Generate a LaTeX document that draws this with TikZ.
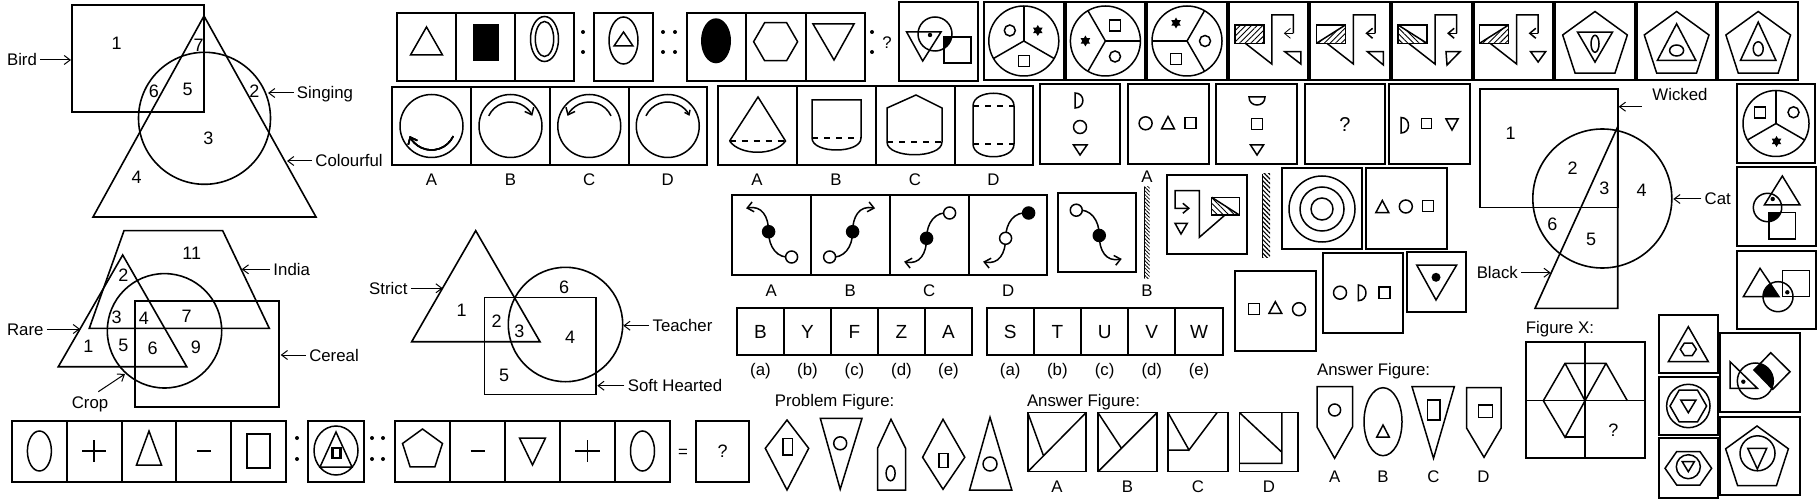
\documentclass[tikz,border=0pt]{standalone}
\usepackage{fontspec}
\setmainfont{Liberation Sans}
\usetikzlibrary{calc,arrows.meta,patterns.meta}
\tikzset{
  bx/.style={draw=black,line width=1pt},
  sh/.style={draw=black,line width=0.75pt},
  vn/.style={draw=black,line width=0.8pt},
  lb/.style={inner sep=0pt,font=\fontsize{8.4}{10}\selectfont,text height=6pt,text depth=0pt},
  nm/.style={inner sep=0pt,font=\fontsize{9}{10}\selectfont,text height=6.4pt,text depth=0pt},
  lt/.style={inner sep=0pt,font=\fontsize{9.5}{11}\selectfont,text height=6.8pt,text depth=0pt},
  arr/.style={line width=0.5pt,-{Straight Barb[length=3pt,width=4.5pt]}},
  tip/.style={-{Straight Barb[length=3pt,width=5pt]}},
  hatch/.style={pattern={Lines[angle=#1,distance=2pt,line width=0.45pt]}},
}
\newcommand\pent[3]{\draw[sh] (#1,#2) +(-90:#3) -- +(-18:#3) -- +(54:#3) -- +(126:#3) -- +(198:#3) -- cycle;}
\newcommand\hexa[4]{\draw[sh] (#1,#2) +(#3,0) -- +({#3/2},#4) -- +({-#3/2},#4) -- +(-#3,0) -- +({-#3/2},-#4) -- +({#3/2},-#4) -- cycle;}
\newcommand\starat[2]{\fill (#1,#2) +(0,-5.5) -- +(4.76,2.75) -- +(-4.76,2.75) -- cycle; \fill (#1,#2) +(0,5.5) -- +(4.76,-2.75) -- +(-4.76,-2.75) -- cycle;}
\newcommand\sq[3]{\draw[sh] (#1-#3,#2-#3) rectangle (#1+#3,#2+#3);}
\newcommand\oc[3]{\draw[sh] (#1,#2) circle[radius=#3];}
\newcommand\sect[4]{\draw[sh] (#1,#2) circle[radius=#3];
  \foreach \aa in {0,120,240}{\draw[sh] (#1,#2) -- +({-(#4+\aa)}:#3);}}
\newcommand\scurve[2]{%
  \draw[sh] (20.5,22) .. controls (6,24) and (-2.5,12) .. (-2.5,-3.3);
  \draw[sh,tip] (-2.5,-3.3) .. controls (-2.5,-18) and (-9,-30) .. (-25,-26.7);
  \filldraw[sh,fill=#2] (20.5,22) circle[radius=6];
  \filldraw[sh,fill=#1] (-2.5,-3.3) circle[radius=6];}
\begin{document}
\begin{tikzpicture}[x=0.5pt,y=-0.5pt]
\useasboundingbox (0,0) rectangle (1818,502);
\fill[white] (0,0) rectangle (1818,502);

% ================= Venn 1 (Bird) =================
\draw[vn] (72,5) rectangle (204,112);
\draw[vn] (204,16) -- (93,217) -- (316,217) -- cycle;
\draw[vn] (204.5,118.3) circle[radius=66];
\node[nm] (a1) at (116.7,42.7) {1};
\node[nm] (a7) at (198.7,45) {7};
\node[nm] (a6) at (154,90.7) {6};
\node[nm] (a5) at (187.7,89.3) {5};
\node[nm] (a2) at (254.3,90.7) {2};
\node[nm] (a3) at (208.3,138.3) {3};
\node[nm] (a4) at (136.7,177.3) {4};
\node[lb] (bird) at (22,60) {Bird};
\coordinate (birdT) at (71,60);
\draw[arr,shorten <=1.5pt] (bird) -- (birdT);
\node[lb] (sing) at (325,93) {Singing};
\coordinate (singT) at (268,93);
\draw[arr,shorten <=1.5pt] (sing) -- (singT);
\node[lb] (colf) at (349,161) {Colourful};
\coordinate (colfT) at (287,161);
\draw[arr,shorten <=1.5pt] (colf) -- (colfT);

% ================= Venn 2 (India) =================
\draw[vn] (124,230.7) -- (222.7,230.7) -- (269.3,328.3) -- (89.3,328.3) -- cycle;
\draw[vn] (122.7,255) -- (58.3,366.7) -- (186.7,366.7) -- cycle;
\draw[vn] (164.5,330.8) circle[radius=57.2];
\draw[vn] (135,300.7) rectangle (278.7,406.7);
\node[nm] (b11) at (191.7,253.3) {11};
\node[nm] (b2) at (123.3,275) {2};
\node[nm] (b3) at (116.7,316.7) {3};
\node[nm] (b4) at (144,318.3) {4};
\node[nm] (b7) at (186.7,315.7) {7};
\node[nm] (b1) at (88.3,346) {1};
\node[nm] (b5) at (123.3,345) {5};
\node[nm] (b6) at (152.7,348.3) {6};
\node[nm] (b9) at (196,346.7) {9};
\node[lb] (india) at (291.7,269.3) {India};
\coordinate (indiaT) at (241.7,269.3);
\draw[arr,shorten <=1.5pt] (india) -- (indiaT);
\node[lb] (rare) at (25.3,329) {Rare};
\coordinate (rareT) at (80,329);
\draw[arr,shorten <=1.5pt] (rare) -- (rareT);
\node[lb] (cereal) at (334,355) {Cereal};
\coordinate (cerealT) at (280.7,355);
\draw[arr,shorten <=1.5pt] (cereal) -- (cerealT);
\node[lb] (crop) at (90,402.3) {Crop};
\coordinate (cropS) at (98.3,391.7);
\coordinate (cropT) at (125,374);
\draw[arr] (cropS) -- (cropT);

% ================= Venn 3 (Strict) =================
\draw[vn] (475.7,230.7) -- (411.7,341.7) -- (540,341.7) -- cycle;
\draw[vn] (484.3,297.3) rectangle (596,394.3);
\draw[vn] (565.5,324.5) circle[radius=57.2];
\node[nm] (c6) at (564,287.3) {6};
\node[nm] (c1) at (461.7,310) {1};
\node[nm] (c2) at (496.7,320.7) {2};
\node[nm] (c3) at (519.3,330.7) {3};
\node[nm] (c4) at (570,337.3) {4};
\node[nm] (c5) at (504,375) {5};
\node[lb] (strict) at (388.3,288.3) {Strict};
\coordinate (strictT) at (442.7,288.3);
\draw[arr,shorten <=1.5pt] (strict) -- (strictT);
\node[lb] (teach) at (682.5,325.7) {Teacher};
\coordinate (teachT) at (623.3,325.7);
\draw[arr,shorten <=1.5pt] (teach) -- (teachT);
\node[lb] (soft) at (675,385.7) {Soft Hearted};
\coordinate (softT) at (597.3,385.7);
\draw[arr,shorten <=1.5pt] (soft) -- (softT);

% ================= Bottom-left analogy row =================
\draw[bx] (12,421) rectangle (286,482);
\foreach \x in {66.8,121.6,176.4,231.2} \draw[bx] (\x,421) -- (\x,482);
\draw[sh] (39.4,451) ellipse[x radius=12,y radius=20];
\draw[sh] (82,451) -- (106.4,451) (94.2,440) -- (94.2,462);
\draw[sh] (149,431) -- (136.5,465) -- (161.5,465) -- cycle;
\draw[sh] (196.8,451) -- (210.8,451);
\draw[sh] (247,434) rectangle (270,468);
\fill (297,438) circle[radius=2]; \fill (297,459) circle[radius=2];
\draw[bx] (308,421) rectangle (364,482);
\draw[sh] (336,450.5) ellipse[x radius=22,y radius=24.5];
\draw[sh] (336,432) -- (320,467) -- (352,467) -- cycle;
\draw[line width=1.2pt] (332.5,448) rectangle (340.5,458);
\fill (372,438) circle[radius=2]; \fill (372,459) circle[radius=2];
\fill (383,438) circle[radius=2]; \fill (383,459) circle[radius=2];
\draw[bx] (395,421) rectangle (670,482);
\foreach \x in {450,505,560,615} \draw[bx] (\x,421) -- (\x,482);
\pent{422.5}{450}{21}
\draw[sh] (470.5,451) -- (484.5,451);
\draw[sh] (519.5,438) -- (545.5,438) -- (532.5,465) -- cycle;
\draw[sh] (575.3,451) -- (599.7,451) (587.5,440) -- (587.5,462);
\draw[sh] (642.5,451) ellipse[x radius=12,y radius=20];
\node[lb] (eq) at (683,451) {=};
\draw[bx] (696,421) rectangle (749,482);
\node[nm] (q1) at (722.5,451.5) {?};

% ================= Top row, left =================
\draw[bx] (397,13) rectangle (574,81);
\foreach \x in {456,515} \draw[bx] (\x,13) -- (\x,81);
\draw[sh] (426.5,27) -- (410.5,55) -- (442.5,55) -- cycle;
\fill (472.5,24) rectangle (498.5,61);
\draw[sh] (544.5,39) ellipse[x radius=14,y radius=22.5];
\draw[sh] (544.5,39) ellipse[x radius=9.2,y radius=17.5];
\fill (583,32) circle[radius=2]; \fill (583,52) circle[radius=2];
\draw[bx] (594,13) rectangle (652.5,81);
\draw[sh] (623.5,40.5) ellipse[x radius=14.5,y radius=23.5];
\draw[sh] (623.5,32) -- (614,46) -- (633,46) -- cycle;
\fill (663,32) circle[radius=2]; \fill (663,52) circle[radius=2];
\fill (675,32) circle[radius=2]; \fill (675,52) circle[radius=2];
\draw[bx] (687,13) rectangle (864.5,81);
\foreach \x in {746,805.5} \draw[bx] (\x,13) -- (\x,81);
\fill (716,40.8) ellipse[x radius=15,y radius=22.5];
\hexa{775.6}{41.7}{22}{19}
\draw[sh] (813,24) -- (854,24) -- (834,60) -- cycle;
\fill (872,32) circle[radius=2]; \fill (872,52) circle[radius=2];
\node[lb] (q2) at (887,43) {?};
\draw[bx] (899,2) rectangle (977.5,81);
\begin{scope}
  \clip (935,34) circle[radius=17];
  \fill (944,37) rectangle (971,63);
\end{scope}
\draw[sh] (906.6,32) -- (941,32) -- (922.7,61) -- cycle;
\oc{935}{34}{17}
\draw[sh] (944,37) rectangle (971,63);
\fill (930,35) circle[radius=2.2];

% ---- circles with arcs
\draw[bx] (392,87) rectangle (707,165);
\foreach \x in {471,550,628.5} \draw[bx] (\x,87) -- (\x,165);
\foreach \x in {431.5,510.5,589.25,667.75} \oc{\x}{126}{31.5}
\draw[sh,tip] ($(431.5,126)+(25:24)$) arc[start angle=25,end angle=155,radius=24];
\draw[sh,tip] ($(510.5,126)+(-155:24)$) arc[start angle=-155,end angle=-25,radius=24];
\draw[sh,tip] ($(589.25,126)+(-25:24)$) arc[start angle=-25,end angle=-155,radius=24];
\draw[sh,-{Straight Barb[length=2pt,width=3pt]}] ($(667.75,126)+(-155:24)$) arc[start angle=-155,end angle=-25,radius=24];
\node[lb] (cA) at (431.5,180) {A};
\node[lb] (cB) at (510.5,180) {B};
\node[lb] (cC) at (589.25,180) {C};
\node[lb] (cD) at (667.75,180) {D};

% ---- cones
\draw[bx] (718,86) rectangle (1033,165);
\foreach \x in {796.5,876,954.5} \draw[bx] (\x,86) -- (\x,165);
\draw[sh] (729.6,141) -- (758,97) -- (785.5,141) .. controls (775,156) and (740,156) .. (729.6,141);
\draw[sh,dashed] (729.6,141) -- (785.5,141);
\draw[sh] (812,138) -- (812,100) -- (861,100) -- (861,138) .. controls (861,154) and (812,154) .. (812,138);
\draw[sh,dashed] (812,138) -- (861,138);
\draw[sh] (887,142) -- (887,108) -- (916,95) -- (942,108) -- (942,142) .. controls (942,159) and (887,159) .. (887,142);
\draw[sh,dashed] (887,142) -- (942,142);
\draw[sh] (973,106) .. controls (973,89) and (1014,89) .. (1014,106) -- (1014,144) .. controls (1014,161) and (973,161) .. (973,144) -- cycle;
\draw[sh,dashed] (973,106) -- (1014,106) (973,144) -- (1014,144);
\node[lb] (kA) at (757,180) {A};
\node[lb] (kB) at (836,180) {B};
\node[lb] (kC) at (915,180) {C};
\node[lb] (kD) at (993.5,180) {D};

% ---- D O triangle boxes
\draw[bx] (1040,84) rectangle (1120,164);
\draw[sh] (1075,93) .. controls (1085.5,93) and (1085.5,108) .. (1075,108) -- cycle;
\oc{1080}{127}{6.5}
\draw[sh] (1073.5,145) -- (1087,145) -- (1080,155) -- cycle;
\draw[bx] (1128,84) rectangle (1209,164);
\oc{1145.6}{123.3}{6.5}
\draw[sh] (1168,116.5) -- (1161.5,129) -- (1174.5,129) -- cycle;
\draw[sh] (1185,117.5) rectangle (1196,128.5);
\draw[bx] (1216,84) rectangle (1297,164);
\draw[sh] (1249,97) -- (1265,97) .. controls (1265,107.7) and (1249,107.7) .. cycle;
\draw[sh] (1251.5,118.5) rectangle (1262.5,129.5);
\draw[sh] (1250.5,145) -- (1263.5,145) -- (1257,155) -- cycle;
\draw[bx] (1305,84) rectangle (1385,164);
\node[font=\fontsize{10}{12}\selectfont,inner sep=0pt] (q3) at (1345,125) {?};
\draw[bx] (1389,84) rectangle (1470,164);
\draw[sh] (1401,117.5) .. controls (1411,117.5) and (1411,133) .. (1401,133) -- cycle;
\draw[sh] (1421.5,118.5) rectangle (1431.5,128.5);
\draw[sh] (1446,119) -- (1458,119) -- (1452,130) -- cycle;

% ---- S-curves
\draw[bx] (731.5,195) rectangle (1047,275);
\foreach \x in {810.7,889.5,968.7} \draw[bx] (\x,195) -- (\x,275);
\begin{scope}[shift={(771.1,235)}] \scurve{black}{white} \end{scope}
\begin{scope}[shift={(850.1,235)},xscale=-1] \scurve{black}{white} \end{scope}
\begin{scope}[shift={(929.1,235)},yscale=-1] \scurve{black}{white} \end{scope}
\begin{scope}[shift={(1008.1,235)},yscale=-1] \scurve{white}{black} \end{scope}
\draw[bx] (1057.5,192.7) rectangle (1136,271.7);
\begin{scope}[shift={(1096.75,232.2)},xscale=-1,yscale=-1] \scurve{black}{white} \end{scope}
\node[lb] (sA) at (771.1,290) {A};
\node[lb] (sB) at (850.1,290) {B};
\node[lb] (sC) at (929.1,290) {C};
\node[lb] (sD) at (1008.1,290) {D};

% ---- mirrors
\node[lb] (mA) at (1147,176.7) {A};
\node[lb] (mB) at (1147,290) {B};
\fill[pattern={Lines[angle=-45,distance=1.3pt,line width=0.4pt]}] (1144,187) rectangle (1149.5,278);
\draw[line width=0.4pt] (1144,187) -- (1144,278);
\draw[bx] (1167.3,175) rectangle (1246.7,254);
\fill[hatch=-45] (1211.7,197.3) -- (1211.7,215) -- (1239.3,215) -- cycle;
\draw[sh] (1211.7,197.3) rectangle (1239.3,215);
\draw[sh] (1211.7,197.3) -- (1239.3,215);
\draw[sh,tip] (1225,215) -- (1199.3,237.3) -- (1199.3,190.7) -- (1175,190.7) -- (1175,208.3) -- (1190,208.3);
\draw[sh] (1175,223.3) -- (1187.3,223.3) -- (1181,234) -- cycle;
\fill[pattern={Lines[angle=-45,distance=1.6pt,line width=0.6pt]}] (1262,174) rectangle (1270,257);
\draw[line width=0.4pt] (1262,174) -- (1262,257);

% ---- concentric and small boxes
\draw[bx] (1281.7,168.3) rectangle (1362.3,249.3);
\oc{1322}{209}{33} \oc{1322}{209}{22} \oc{1322}{209}{11}
\draw[bx] (1366,168.3) rectangle (1446.7,249.3);
\draw[sh] (1382.3,200.5) -- (1375.8,212.7) -- (1388.8,212.7) -- cycle;
\oc{1405.8}{206.5}{6.5}
\draw[sh] (1422.3,200.7) rectangle (1433.3,211.7);
\draw[bx] (1235,270.5) rectangle (1315.7,350.5);
\draw[sh] (1248.3,303.3) rectangle (1259.3,314.3);
\draw[sh] (1275.3,301.7) -- (1269,313.3) -- (1281.7,313.3) -- cycle;
\oc{1299}{309.2}{6.5}
\draw[bx] (1322.7,253.3) rectangle (1402.7,333.3);
\oc{1340}{292.7}{6.5}
\draw[sh] (1358.3,285) .. controls (1368.5,285) and (1368.5,300.7) .. (1358.3,300.7) -- cycle;
\draw[sh] (1379,286.8) rectangle (1390,298.3);
\draw[bx] (1406.7,252.3) rectangle (1466,311.7);
\draw[sh] (1416.7,265) -- (1456.7,265) -- (1436,300) -- cycle;
\fill (1436,277.3) circle[radius=4.5];

% ---- letter boxes
\draw[bx] (737,308.3) rectangle (972,355);
\foreach \x in {784,831,878,925} \draw[bx] (\x,308.3) -- (\x,355);
\node[lt] (l1) at (760.5,331.7) {B};
\node[lt] (l2) at (807.5,331.7) {Y};
\node[lt] (l3) at (854.5,331.7) {F};
\node[lt] (l4) at (901.5,331.7) {Z};
\node[lt] (l5) at (948.5,331.7) {A};
\draw[bx] (986.6,308.3) rectangle (1222.6,355);
\foreach \x in {1033.8,1081,1128.2,1175.4} \draw[bx] (\x,308.3) -- (\x,355);
\node[lt] (m1) at (1010.2,331.7) {S};
\node[lt] (m2) at (1057.4,331.7) {T};
\node[lt] (m3) at (1104.6,331.7) {U};
\node[lt] (m4) at (1151.8,331.7) {V};
\node[lt] (m5) at (1199,331.7) {W};
\foreach \t/\x [count=\i] in {(a)/760.5,(b)/807.5,(c)/854.5,(d)/901.5,(e)/948.5}
  \node[lb] (la\i) at (\x,369.3) {\t};
\foreach \t/\x [count=\i] in {(a)/1010.2,(b)/1057.4,(c)/1104.6,(d)/1151.8,(e)/1199}
  \node[lb] (lb\i) at (\x,369.3) {\t};

% ---- Problem figure
\node[lb] (pf) at (834.6,400.5) {Problem Figure:};
\draw[sh] (787,420) -- (808.7,448.3) -- (787,490) -- (765.3,448.3) -- cycle;
\draw[sh] (783,438.3) rectangle (792.7,455);
\draw[sh] (820.3,418.3) -- (862,418.3) -- (840.2,489.3) -- cycle;
\oc{840.2}{443.3}{6.5}
\draw[sh] (891,419.3) -- (905.6,448.3) -- (905.6,490) -- (877.5,490) -- (877.5,448.3) -- cycle;
\draw[sh] (890.6,473.3) ellipse[x radius=4.5,y radius=7.5];
\draw[sh] (943,419.3) -- (964.8,457.3) -- (943,489.3) -- (922.6,457.3) -- cycle;
\draw[sh] (939,453.3) rectangle (947.8,467.3);
\draw[sh] (990,417.3) -- (1011.8,490) -- (969.6,490) -- cycle;
\oc{990}{464}{7}

% ---- Answer figure (squares)
\node[lb] (af1) at (1083.5,400.5) {Answer Figure:};
\draw[sh] (1027.8,412.7) rectangle (1086,471.7);
\draw[sh] (1027.8,471.7) -- (1086,412.7) (1027.8,412.7) -- (1043.5,455.8);
\draw[sh] (1098,412.7) rectangle (1157,471.7);
\draw[sh] (1098,471.7) -- (1157,412.7) (1098,412.7) -- (1121.5,448.4);
\draw[sh] (1168,412.7) rectangle (1228,471.7);
\draw[sh] (1168,412.7) -- (1189,450) -- (1217,412.7) (1168,450) -- (1189,450);
\draw[sh] (1239.6,412.7) rectangle (1298,471.7);
\draw[sh] (1239.6,412.7) -- (1281.9,452.3) (1281.9,412.7) -- (1281.9,463.3) -- (1239.6,463.3);
\node[lb] (qA) at (1057,486.7) {A};
\node[lb] (qB) at (1127.5,486.7) {B};
\node[lb] (qC) at (1198,486.7) {C};
\node[lb] (qD) at (1268.8,486.7) {D};

% ---- Answer figure (shields)
\node[lb] (af2) at (1373.6,369.3) {Answer Figure:};
\draw[sh] (1317,386.7) -- (1352.5,386.7) -- (1352.5,427) -- (1334.6,458.3) -- (1317,427) -- cycle;
\oc{1334.6}{410}{6}
\draw[sh] (1383,421.7) ellipse[x radius=19,y radius=34];
\draw[sh] (1383,425) -- (1376.8,437) -- (1389.2,437) -- cycle;
\draw[sh] (1412,386.7) -- (1454.3,386.7) -- (1433.5,458.3) -- cycle;
\draw[sh] (1427.6,400) rectangle (1439.8,420);
\draw[sh] (1466.7,387.7) -- (1501,387.7) -- (1501,428.3) -- (1484,457.3) -- (1466.7,428.3) -- cycle;
\draw[sh] (1478.3,405) rectangle (1492.7,417.7);
\node[lb] (rA) at (1334.6,476.7) {A};
\node[lb] (rB) at (1383,476.7) {B};
\node[lb] (rC) at (1433.5,476.7) {C};
\node[lb] (rD) at (1483.3,476.7) {D};

% ---- Figure X
\node[lb] (fx) at (1560,327.3) {Figure X:};
\draw[bx] (1526,341.7) rectangle (1645,458.3);
\draw[line width=1.3pt] (1585,341.7) -- (1585,458.3);
\draw[sh] (1526,400.7) -- (1645,400.7);
\draw[sh] (1543.3,400.7) -- (1565,363.3) -- (1606,363.3) -- (1627.3,400.7);
\draw[sh] (1565,363.3) -- (1585,400.7) -- (1606,363.3);
\draw[sh] (1543.3,400.7) -- (1565,437.3) -- (1585,400.7);
\draw[line width=1pt] (1565,437.3) -- (1585,437.3);
\node[nm] (qx) at (1613.3,430) {?};

% ================= Top row, right =================
\foreach \x in {983,1064.6,1146.2,1227.8,1309.4,1391,1472.6,1554.2,1635.8,1717.4}
  \draw[bx] (\x+1,2) rectangle (\x+80.6,80);
\sect{1023.8}{41}{35}{90}
\oc{1009.8}{30.5}{5.5} \starat{1037.8}{30.5} \sq{1023.8}{61}{5.5}
\sect{1105.4}{41}{35}{0}
\sq{1115}{25.5}{5.5} \starat{1085.4}{41} \oc{1115}{56.5}{5.5}
\sect{1187}{41}{35}{60}
\starat{1176}{23} \sq{1176}{59}{5.5} \oc{1205}{41}{5.5}
% flags
\begin{scope}[shift={(1227.8,0)}]
  \fill[hatch=45] (7,25) rectangle (36,43.3);
  \draw[sh] (7,25) rectangle (36,43.3);
  \draw[sh] (17.5,43.3) -- (44,64) -- (44,15) -- (65.6,15) -- (65.6,33.3);
  \draw[line width=0.4pt,tip] (65.6,33.3) -- (56,33.3);
  \draw[sh] (57,51.7) -- (73,51.7) -- (73,64) -- cycle;
\end{scope}
\begin{scope}[shift={(1309.4,0)}]
  \fill[hatch=45] (36,25) -- (36,43.3) -- (7,43.3) -- cycle;
  \draw[sh] (7,25) rectangle (36,43.3);
  \draw[sh] (7,43.3) -- (36,25);
  \draw[sh] (17.5,43.3) -- (44,64) -- (44,15) -- (65.6,15) -- (65.6,33.3);
  \draw[sh,tip] (65.6,33.3) -- (56,33.3);
  \draw[sh] (58,51.7) -- (74,51.7) -- (74,65) -- cycle;
\end{scope}
\begin{scope}[shift={(1391,0)}]
  \fill[hatch=-45] (7,25) -- (7,43.3) -- (36,43.3) -- cycle;
  \draw[sh] (7,25) rectangle (36,43.3);
  \draw[sh] (7,25) -- (36,43.3);
  \draw[sh] (17.5,43.3) -- (44,64) -- (44,15) -- (65.6,15) -- (65.6,33.3);
  \draw[sh,tip] (65.6,33.3) -- (56,33.3);
  \draw[sh] (55,51.7) -- (69,51.7) -- (56,65) -- cycle;
\end{scope}
\begin{scope}[shift={(1472.6,0)}]
  \fill[hatch=45] (36,25) -- (36,43.3) -- (7,43.3) -- cycle;
  \draw[sh] (7,25) rectangle (36,43.3);
  \draw[sh] (7,43.3) -- (36,25);
  \draw[sh] (17.5,43.3) -- (44,64) -- (44,15) -- (65.6,15) -- (65.6,33.3);
  \draw[sh,tip] (65.6,33.3) -- (56,33.3);
  \draw[sh] (58,51.7) -- (73,51.7) -- (65.5,62) -- cycle;
\end{scope}
% pentagons
\pent{1595}{45.5}{34}
\draw[sh] (1577.5,32.1) -- (1612.5,32.1) -- (1595,62.1) -- cycle;
\draw[sh] (1595,43.8) ellipse[x radius=4,y radius=8.5];
\pent{1676.6}{45.5}{34}
\draw[sh] (1676.6,23.8) -- (1695.9,60.5) -- (1657.3,60.5) -- cycle;
\draw[sh] (1676.6,50.5) ellipse[x radius=7,y radius=5.5];
\pent{1758.2}{45.5}{34}
\draw[sh] (1758.2,22.1) -- (1776,60.5) -- (1740.4,60.5) -- cycle;
\draw[sh] (1758.2,48.8) ellipse[x radius=5,y radius=7];

% ================= Wicked Venn =================
\draw[vn] (1480,89) rectangle (1617.7,207.7);
\draw[vn] (1617.7,126.7) -- (1535,308.3) -- (1617.7,308.3) -- cycle;
\draw[vn] (1602.3,198.5) circle[radius=69.5];
\node[nm] (w1) at (1510.7,133.3) {1};
\node[nm] (w2) at (1572.7,168.3) {2};
\node[nm] (w3) at (1604.3,187.7) {3};
\node[nm] (w4) at (1641.7,190) {4};
\node[nm] (w5) at (1591,239.3) {5};
\node[nm] (w6) at (1552.3,224) {6};
\node[lb] (wick) at (1680,95) {Wicked};
\coordinate (wickS) at (1641.7,106.7);
\coordinate (wickT) at (1618.7,106.7);
\draw[arr] (wickS) -- (wickT);
\node[lb] (cat) at (1717.7,199) {Cat};
\coordinate (catT) at (1673.3,199);
\draw[arr,shorten <=1.5pt] (cat) -- (catT);
\node[lb] (black) at (1497.3,272.7) {Black};
\coordinate (blackT) at (1550.7,272.7);
\draw[arr,shorten <=1.5pt] (black) -- (blackT);

% ================= Right column =================
\draw[bx] (1737,84) rectangle (1815,163);
\sect{1776}{123.5}{33}{90}
\sq{1760}{112.3}{5.5} \oc{1793.5}{112.3}{5.5} \starat{1776.5}{141.5}
\draw[bx] (1737,167.3) rectangle (1816,246);
\begin{scope}
  \clip (1767.5,207.5) circle[radius=14.2];
  \fill (1769,212.7) rectangle (1795.7,239);
\end{scope}
\draw[sh] (1782.3,176) -- (1764.3,205) -- (1800,205) -- cycle;
\oc{1767.5}{207.5}{14.2}
\draw[sh] (1769,212.7) rectangle (1795.7,239);
\fill (1772.7,199) circle[radius=2.2];
\draw[bx] (1737,250.7) rectangle (1816,329.3);
\begin{scope}
  \clip (1778,296.7) circle[radius=15];
  \fill (1760,268.3) -- (1743.3,296.7) -- (1779,296.7) -- cycle;
\end{scope}
\draw[sh] (1760,268.3) -- (1743.3,296.7) -- (1779,296.7) -- cycle;
\draw[sh] (1782.7,270.7) rectangle (1809.3,296.7);
\oc{1778}{296.7}{15}
\fill (1787.3,292.3) circle[radius=2.2];

\draw[bx] (1659,315) rectangle (1717.7,373.3);
\draw[sh] (1688.3,326.7) -- (1668.3,361.7) -- (1708.3,361.7) -- cycle;
\hexa{1688.3}{349.3}{8}{6.2}
\draw[bx] (1659,376.7) rectangle (1717.7,435);
\oc{1688.3}{406}{21.7}
\hexa{1688.3}{406}{18.3}{15.9}
\draw[sh] (1680.7,400) -- (1696,400) -- (1688.3,412.7) -- cycle;
\draw[bx] (1659,438.3) rectangle (1717.7,498.3);
\hexa{1688.3}{468.3}{23.3}{16.7}
\oc{1688.3}{466.7}{12}
\draw[sh] (1682.3,461.7) -- (1694.3,461.7) -- (1688.3,471.7) -- cycle;

\draw[bx] (1720,333.3) rectangle (1800,412.3);
\begin{scope}
  \clip (1755.3,381) circle[radius=18];
  \fill (1770.7,352.7) -- (1790,371.7) -- (1772.7,389.3) -- (1754,370) -- cycle;
\end{scope}
\draw[sh] (1770.7,352.7) -- (1790,371.7) -- (1772.7,389.3) -- (1754,370) -- cycle;
\draw[sh] (1730,361.7) -- (1730,388.3) -- (1757.3,388.3) -- cycle;
\oc{1755.3}{381}{18}
\fill (1743.3,381.7) circle[radius=2.2];
\draw[bx] (1720,416.7) rectangle (1800,495);
\pent{1757}{459}{33}
\oc{1757.5}{453.3}{17.5}
\draw[sh] (1747.7,448.3) -- (1766.7,448.3) -- (1757.3,469) -- cycle;
\end{tikzpicture}
\end{document}
